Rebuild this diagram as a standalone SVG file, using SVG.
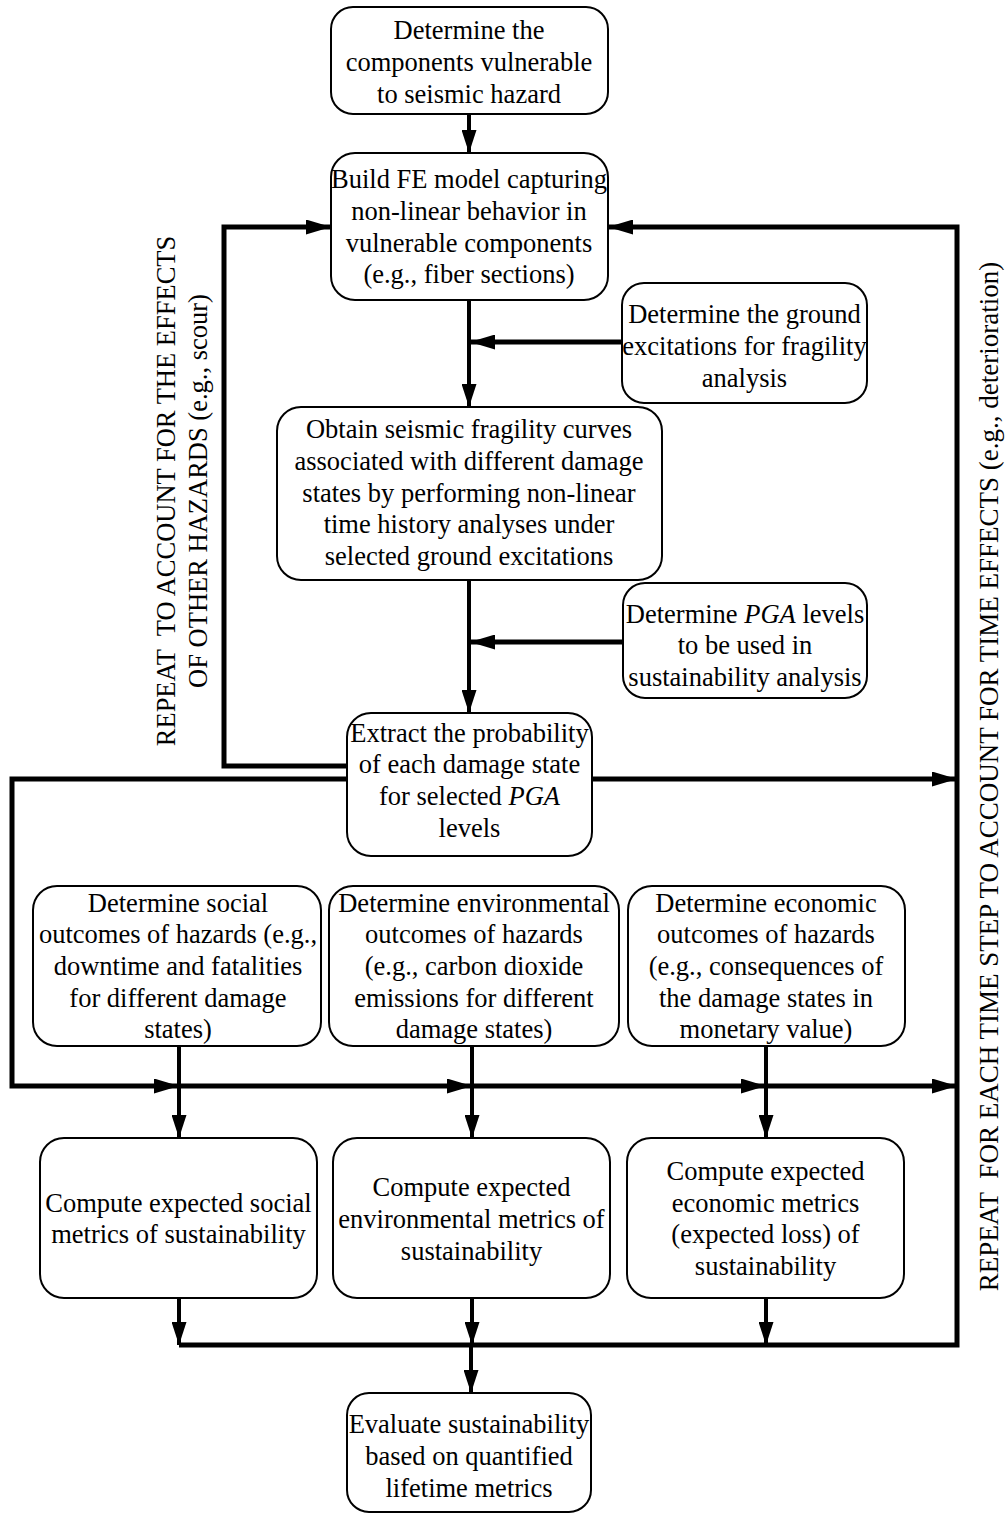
<svg xmlns="http://www.w3.org/2000/svg" width="1006" height="1513" viewBox="0 0 1006 1513">
<style>
text{font-family:"Liberation Serif","Times New Roman",serif;font-size:26.5px;fill:#000;text-anchor:middle}
.box{fill:#fff;stroke:#000;stroke-width:2}
.c{fill:none;stroke:#000;stroke-width:5;stroke-linejoin:miter;stroke-linecap:butt}
.v{fill:none;stroke:#000;stroke-width:4}
.rot{text-anchor:middle}
</style>
<defs>
<marker id="ah" markerUnits="userSpaceOnUse" markerWidth="25" markerHeight="15" refX="25" refY="7.5" orient="auto" viewBox="0 0 25 15">
<path d="M0,0 L25,7.5 L0,15 z" fill="#000"/>
</marker>
<marker id="av" markerUnits="userSpaceOnUse" markerWidth="23" markerHeight="15" refX="23" refY="7.5" orient="auto" viewBox="0 0 23 15">
<path d="M0,0 L23,7.5 L0,15 z" fill="#000"/>
</marker>
</defs>

<g id="connectors">
<line class="v" x1="469" y1="114" x2="469" y2="153" marker-end="url(#av)"/>
<line class="v" x1="469" y1="300" x2="469" y2="407" marker-end="url(#av)"/>
<line class="c" x1="622" y1="342" x2="470" y2="342" marker-end="url(#ah)"/>
<line class="v" x1="469" y1="580" x2="469" y2="713" marker-end="url(#av)"/>
<line class="c" x1="623" y1="642" x2="470" y2="642" marker-end="url(#ah)"/>
<path class="c" d="M347,766 H224 V227 H331" marker-end="url(#ah)"/>
<path class="c" d="M179,1345 H957 V227 H608" marker-end="url(#ah)"/>
<line class="c" x1="592" y1="779" x2="957" y2="779" marker-end="url(#ah)"/>
<path class="c" d="M347,779 H12 V1086 H179" marker-end="url(#ah)"/>
<line class="c" x1="179" y1="1086" x2="472" y2="1086" marker-end="url(#ah)"/>
<line class="c" x1="472" y1="1086" x2="766" y2="1086" marker-end="url(#ah)"/>
<line class="c" x1="766" y1="1086" x2="957" y2="1086" marker-end="url(#ah)"/>
<line class="v" x1="179" y1="1046" x2="179" y2="1138" marker-end="url(#av)"/>
<line class="v" x1="472" y1="1046" x2="472" y2="1138" marker-end="url(#av)"/>
<line class="v" x1="766" y1="1046" x2="766" y2="1138" marker-end="url(#av)"/>
<line class="v" x1="179" y1="1298" x2="179" y2="1345" marker-end="url(#av)"/>
<line class="v" x1="472" y1="1298" x2="472" y2="1345" marker-end="url(#av)"/>
<line class="v" x1="766" y1="1298" x2="766" y2="1345" marker-end="url(#av)"/>
<line class="v" x1="471" y1="1345" x2="471" y2="1393" marker-end="url(#av)"/>
</g>

<g id="n1">
<rect class="box" x="331" y="7" width="277" height="107" rx="22"/>
<text x="469" y="39">Determine the</text>
<text x="469" y="71">components vulnerable</text>
<text x="469" y="102.5">to seismic hazard</text>
</g>

<g id="n2">
<rect class="box" x="331" y="153" width="277" height="147" rx="24"/>
<text x="469" y="188">Build FE model capturing</text>
<text x="469" y="220">non-linear behavior in</text>
<text x="469" y="251.5">vulnerable components</text>
<text x="469" y="283">(e.g., fiber sections)</text>
</g>

<g id="n3">
<rect class="box" x="622" y="283" width="245" height="120" rx="22"/>
<text x="744.5" y="323">Determine the ground</text>
<text x="744.5" y="355">excitations for fragility</text>
<text x="744.5" y="387">analysis</text>
</g>

<g id="n4">
<rect class="box" x="277" y="407" width="385" height="173" rx="24"/>
<text x="469" y="438">Obtain seismic fragility curves</text>
<text x="469" y="470">associated with different damage</text>
<text x="469" y="502">states by performing non-linear</text>
<text x="469" y="533">time history analyses under</text>
<text x="469" y="565">selected ground excitations</text>
</g>

<g id="n5">
<rect class="box" x="623" y="583" width="244" height="115" rx="22"/>
<text x="745" y="623">Determine <tspan font-style="italic">PGA</tspan> levels</text>
<text x="745" y="654">to be used in</text>
<text x="745" y="686">sustainability analysis</text>
</g>

<g id="n6">
<rect class="box" x="347" y="713" width="245" height="143" rx="24"/>
<text x="469.5" y="742">Extract the probability</text>
<text x="469.5" y="773">of each damage state</text>
<text x="469.5" y="805">for selected <tspan font-style="italic">PGA</tspan></text>
<text x="469.5" y="837">levels</text>
</g>

<g id="n7">
<rect class="box" x="33" y="886" width="288" height="160" rx="24"/>
<text x="178" y="912">Determine social</text>
<text x="178" y="943">outcomes of hazards (e.g.,</text>
<text x="178" y="975">downtime and fatalities</text>
<text x="178" y="1007">for different damage</text>
<text x="178" y="1038">states)</text>
</g>

<g id="n8">
<rect class="box" x="329" y="886" width="290" height="160" rx="24"/>
<text x="474" y="912">Determine environmental</text>
<text x="474" y="943">outcomes of hazards</text>
<text x="474" y="975">(e.g., carbon dioxide</text>
<text x="474" y="1007">emissions for different</text>
<text x="474" y="1038">damage states)</text>
</g>

<g id="n9">
<rect class="box" x="628" y="886" width="277" height="160" rx="24"/>
<text x="766" y="912">Determine economic</text>
<text x="766" y="943">outcomes of hazards</text>
<text x="766" y="975">(e.g., consequences of</text>
<text x="766" y="1007">the damage states in</text>
<text x="766" y="1038">monetary value)</text>
</g>

<g id="n10">
<rect class="box" x="40" y="1138" width="277" height="160" rx="24"/>
<text x="178.5" y="1212">Compute expected social</text>
<text x="178.5" y="1243">metrics of sustainability</text>
</g>

<g id="n11">
<rect class="box" x="333" y="1138" width="277" height="160" rx="24"/>
<text x="471.5" y="1196">Compute expected</text>
<text x="471.5" y="1228">environmental metrics of</text>
<text x="471.5" y="1260">sustainability</text>
</g>

<g id="n12">
<rect class="box" x="627" y="1138" width="277" height="160" rx="24"/>
<text x="765.5" y="1180">Compute expected</text>
<text x="765.5" y="1212">economic metrics</text>
<text x="765.5" y="1243">(expected loss) of</text>
<text x="765.5" y="1275">sustainability</text>
</g>

<g id="n13">
<rect class="box" x="347" y="1393" width="244" height="119" rx="22"/>
<text x="469" y="1433">Evaluate sustainability</text>
<text x="469" y="1465">based on quantified</text>
<text x="469" y="1497">lifetime metrics</text>
</g>

<g id="labels">
<text class="rot" transform="rotate(-90)" x="-491" y="175">REPEAT&#160; TO ACCOUNT FOR THE EFFECTS</text>
<text class="rot" transform="rotate(-90)" x="-491" y="207">OF OTHER HAZARDS (e.g., scour)</text>
<text class="rot" transform="rotate(-90)" x="-776.5" y="998" style="font-size:27px">REPEAT&#160; FOR EACH TIME STEP TO ACCOUNT FOR TIME EFFECTS (e.g., deterioration)</text>
</g>
</svg>
